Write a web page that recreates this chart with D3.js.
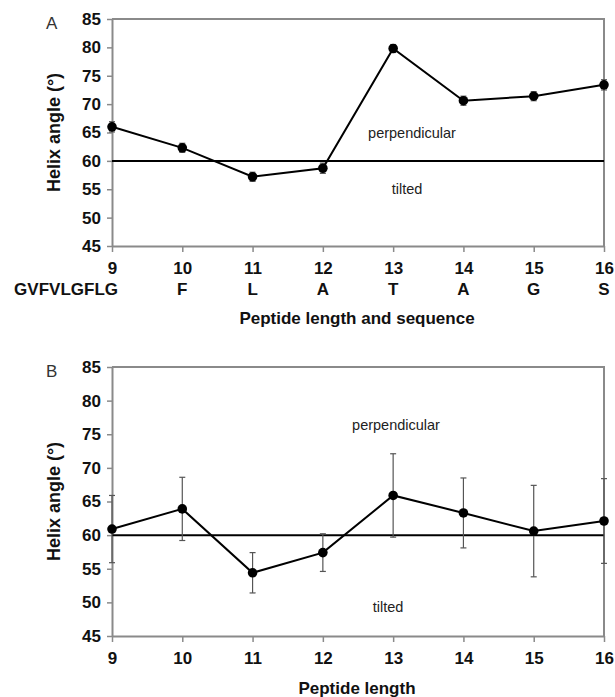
<!DOCTYPE html>
<html>
<head>
<meta charset="utf-8">
<script src="https://cdn.jsdelivr.net/npm/d3@7"></script>
<style>
body { margin: 0; background: #fff; }
text { font-family: "Liberation Sans", Arial, sans-serif; }
</style>
</head>
<body>
<svg id="chart" width="615" height="697"></svg>
<script>
// peptide lengths shared by both panels
var lengths = [9, 10, 11, 12, 13, 14, 15, 16];
var seqLabels = ["GVFVLGFLG", "F", "L", "A", "T", "A", "G", "S"];
var yTicks = [45, 50, 55, 60, 65, 70, 75, 80, 85];

// panel A
var angleA = [66.0, 62.3, 57.2, 58.7, 79.8, 70.6, 71.4, 73.4];
var errA = [0.9, 0.8, 0.8, 0.9, 0.7, 0.8, 0.8, 0.9];
// panel B
var angleB = [60.9, 63.9, 54.4, 57.4, 65.9, 63.3, 60.6, 62.1];
var errB = [5.0, 4.7, 3.0, 2.8, 6.2, 5.2, 6.8, 6.3];

var threshold = 60;

var svg = d3.select("#chart");
var xScale = d3.scaleLinear().domain([9, 16]).range([112, 604]);

var drawPanel = function(cfg)
{
    var yScale = d3.scaleLinear().domain([45, 85]).range([cfg.bottom, cfg.top]);
    var g = svg.append("g");

    // frame top + right
    g.append("path")
        .attr("d", "M" + xScale(9) + "," + cfg.top + "H" + xScale(16) + "V" + cfg.bottom)
        .attr("fill", "none").attr("stroke", "#8a8a8a").attr("stroke-width", 2);

    var yAxis = d3.axisLeft(yScale).tickValues(yTicks).tickSize(5).tickSizeOuter(0);
    var ya = g.append("g").attr("transform", "translate(" + xScale(9) + ",0)").call(yAxis);
    var xAxis = d3.axisBottom(xScale).tickValues(lengths).tickSize(6).tickSizeOuter(0).tickFormat(d3.format("d"));
    var xa = g.append("g").attr("transform", "translate(0," + cfg.bottom + ")").call(xAxis);

    [ya, xa].forEach(function(a) {
        a.select(".domain").attr("stroke", "#8a8a8a").attr("stroke-width", 2);
        a.selectAll(".tick line").attr("stroke", "#8a8a8a").attr("stroke-width", 1.5);
        a.selectAll(".tick text")
            .attr("font-size", 17).attr("font-weight", "bold")
            .attr("font-family", "Liberation Sans, Arial, sans-serif").attr("fill", "#111");
    });
    ya.selectAll(".tick text").attr("x", -11);
    xa.selectAll(".tick text").attr("y", 16);

    if (cfg.seq) {
        g.append("g").selectAll("text").data(seqLabels).enter().append("text")
            .attr("x", function(d, i) { return i == 0 ? xScale(lengths[i]) + 6 : xScale(lengths[i]); })
            .attr("y", cfg.bottom + 49)
            .attr("text-anchor", function(d, i) { return i == 0 ? "end" : "middle"; })
            .attr("font-size", 17).attr("font-weight", "bold").attr("fill", "#111")
            .text(function(d) { return d; });
    }

    // threshold line
    g.append("line")
        .attr("x1", xScale(9)).attr("x2", xScale(16))
        .attr("y1", yScale(threshold)).attr("y2", yScale(threshold))
        .attr("stroke", "#000").attr("stroke-width", 2);

    // error bars
    var eb = g.append("g").selectAll("g").data(lengths).enter().append("g")
        .attr("stroke", "#555").attr("stroke-width", 1.2);
    eb.append("line")
        .attr("x1", function(d) { return xScale(d); }).attr("x2", function(d) { return xScale(d); })
        .attr("y1", function(d, i) { return yScale(cfg.vals[i] - cfg.err[i]); })
        .attr("y2", function(d, i) { return yScale(cfg.vals[i] + cfg.err[i]); });
    [-1, 1].forEach(function(s) {
        eb.append("line")
            .attr("x1", function(d) { return xScale(d) - 3; }).attr("x2", function(d) { return xScale(d) + 3; })
            .attr("y1", function(d, i) { return yScale(cfg.vals[i] + s * cfg.err[i]); })
            .attr("y2", function(d, i) { return yScale(cfg.vals[i] + s * cfg.err[i]); });
    });

    var line = d3.line()
        .x(function(d, i) { return xScale(lengths[i]); })
        .y(function(d) { return yScale(d); });
    g.append("path").datum(cfg.vals)
        .attr("d", line).attr("fill", "none").attr("stroke", "#000").attr("stroke-width", 2);

    g.append("g").selectAll("circle").data(cfg.vals).enter().append("circle")
        .attr("cx", function(d, i) { return xScale(lengths[i]); })
        .attr("cy", function(d) { return yScale(d); })
        .attr("r", 4.8).attr("fill", "#000");

    // region labels
    g.append("text").attr("x", cfg.perp[0]).attr("y", cfg.perp[1])
        .attr("text-anchor", "middle").attr("font-size", 14.5).attr("fill", "#222").text("perpendicular");
    g.append("text").attr("x", cfg.tilt[0]).attr("y", cfg.tilt[1])
        .attr("text-anchor", "middle").attr("font-size", 14.5).attr("fill", "#222").text("tilted");

    // panel letter
    g.append("text").attr("x", cfg.letterX).attr("y", cfg.top + 10)
        .attr("font-size", 17).attr("fill", "#333").text(cfg.letter);

    // axis titles
    var cy = (cfg.top + cfg.bottom) / 2;
    g.append("text")
        .attr("transform", "translate(60," + cy + ") rotate(-90)")
        .attr("text-anchor", "middle").attr("font-size", 18).attr("font-weight", "bold").attr("fill", "#111")
        .text("Helix angle (°)");
    g.append("text")
        .attr("x", 357).attr("y", cfg.titleY)
        .attr("text-anchor", "middle").attr("font-size", 17).attr("font-weight", "bold").attr("fill", "#111")
        .text(cfg.xTitle);
}

drawPanel({top: 19, bottom: 246, vals: angleA, err: errA, seq: true, letter: "A", letterX: 46,
    perp: [412, 138], tilt: [407, 194], titleY: 324, xTitle: "Peptide length and sequence"});
drawPanel({top: 367, bottom: 636, vals: angleB, err: errB, seq: false, letter: "B", letterX: 46,
    perp: [396, 430], tilt: [388, 612], titleY: 694, xTitle: "Peptide length"});
</script>
</body>
</html>
